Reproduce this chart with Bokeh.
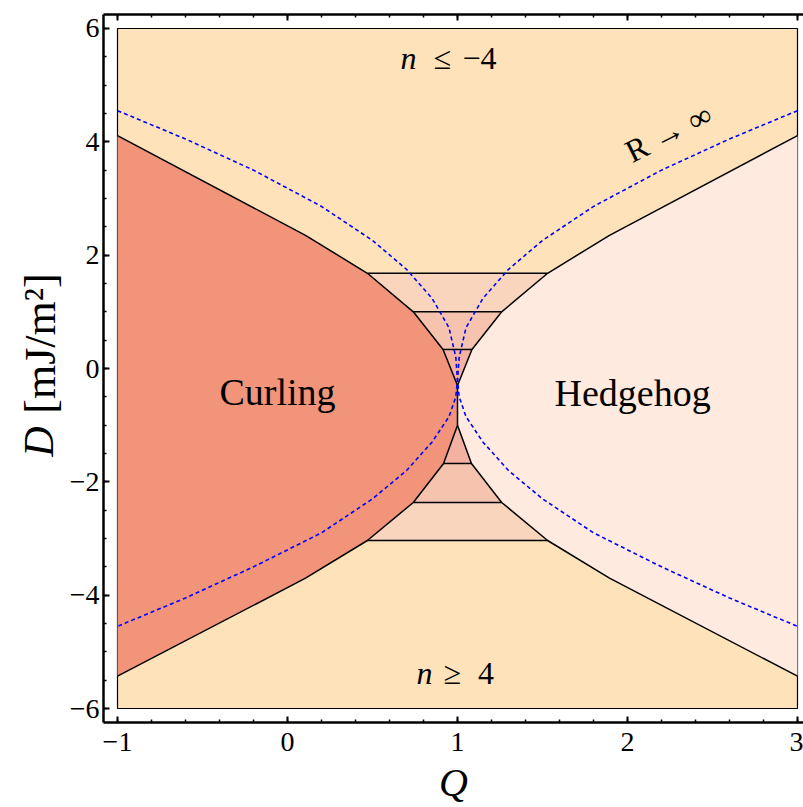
import numpy as np
from bokeh.plotting import figure
from bokeh.layouts import row
from bokeh.models import Range1d, FixedTicker, LinearAxis, Label, CustomJSTickFormatter
from bokeh.core.properties import value
from bokeh.embed import file_html
from bokeh.resources import INLINE

# ---------------- data ----------------
# upper phase boundary (Curling | bands | Hedgehog), from Q=-1 down to the apex
d_up = [4.11, 2.35, 1.68, 1.00, 0.336, -0.30]
q_up_left = [-1.0, 0.106, 0.47, 0.74, 0.915, 1.0]
q_up_right = [3.0, 1.894, 1.53, 1.26, 1.085, 1.0]
# lower phase boundary, from Q=-1 up to the apex
d_lo = [-5.43, -3.70, -3.035, -2.364, -1.676, -1.00]
q_lo_left = [-1.0, 0.106, 0.47, 0.74, 0.918, 1.0]
q_lo_right = [3.0, 1.894, 1.53, 1.26, 1.082, 1.0]

# R -> infinity curves (blue dashed)
q_curve_a = [-1.0, -0.6, -0.2, 0.2, 0.5, 0.7, 0.85, 0.95, 0.99, 1.0, 1.01, 1.05, 1.15, 1.3, 1.5, 1.8, 2.2, 2.6, 3.0]
d_curve_a = [4.55, 4.05, 3.5, 2.86, 2.26, 1.75, 1.24, 0.72, 0.2, -0.2, -0.5, -0.85, -1.3, -1.8, -2.3, -2.9, -3.5, -4.05, -4.55]
q_curve_b = [3.0, 2.6, 2.2, 1.8, 1.5, 1.3, 1.15, 1.05, 1.01, 1.0, 0.99, 0.95, 0.85, 0.7, 0.5, 0.2, -0.2, -0.6, -1.0]
d_curve_b = [4.55, 4.05, 3.5, 2.86, 2.26, 1.75, 1.24, 0.72, 0.2, -0.2, -0.5, -0.85, -1.3, -1.8, -2.3, -2.9, -3.5, -4.05, -4.55]

q_min, q_max = -1.0, 3.0
d_min, d_max = -6.0, 6.0

x_ticks = [-1, 0, 1, 2, 3]
y_ticks = [-6, -4, -2, 0, 2, 4, 6]
x_tick_labels = {"-1": "\u22121", "0": "0", "1": "1", "2": "2", "3": "3"}
y_tick_labels = {"-6": "\u22126", "-4": "\u22124", "-2": "\u22122", "0": "0", "2": "2", "4": "4", "6": "6"}

# ---------------- colours ----------------
C_BG = "#FDE2BA"
C_CURL = "#F1947A"
C_HEDGE = "#FEEADF"
C_BAND = ["#F8D5BC", "#F6C4AE", "#F2B1A1"]
FONT = "Liberation Serif"

LEFT_W = 66
TOP_B, BOT_B = 14, 85

p = figure(width=803 - LEFT_W, height=807, output_backend="svg", toolbar_location=None,
           x_range=Range1d(-1.0824, 3.0353), y_range=Range1d(-6.247, 6.247),
           min_border_left=103 - LEFT_W, min_border_right=0,
           min_border_top=TOP_B, min_border_bottom=BOT_B)
p.grid.visible = False
p.outline_line_color = None

# background (n <= -4 / n >= 4 region)
p.quad(left=[q_min], right=[q_max], bottom=[d_min], top=[d_max],
       fill_color=C_BG, line_color="black", line_width=1.2)

# Curling region
curl_x = q_up_left + q_lo_left[::-1]
curl_y = d_up + d_lo[::-1]
p.patch(curl_x, curl_y, fill_color=C_CURL, line_color=None)
# Hedgehog region
hed_x = q_up_right + q_lo_right[::-1]
hed_y = d_up + d_lo[::-1]
p.patch(hed_x, hed_y, fill_color=C_HEDGE, line_color=None)

# bands between the boundaries
for j, k in enumerate([2, 3, 4]):
    xs = [q_up_left[k], q_up_right[k], q_up_right[k + 1], q_up_left[k + 1]]
    ys = [d_up[k], d_up[k], d_up[k + 1], d_up[k + 1]]
    p.patch(xs, ys, fill_color=C_BAND[j], line_color=None)
    xs = [q_lo_left[k], q_lo_right[k], q_lo_right[k + 1], q_lo_left[k + 1]]
    ys = [d_lo[k], d_lo[k], d_lo[k + 1], d_lo[k + 1]]
    p.patch(xs, ys, fill_color=C_BAND[j], line_color=None)

# boundary lines
for qs, ds in [(q_up_left, d_up), (q_up_right, d_up), (q_lo_left, d_lo), (q_lo_right, d_lo)]:
    p.line(qs, ds, line_color="black", line_width=1.5)
p.line([q_up_left[-1], q_lo_left[-1]], [d_up[-1], d_lo[-1]], line_color="black", line_width=1.5)
for k in [2, 3, 4]:
    p.line([q_up_left[k], q_up_right[k]], [d_up[k], d_up[k]], line_color="black", line_width=1.5)
    p.line([q_lo_left[k], q_lo_right[k]], [d_lo[k], d_lo[k]], line_color="black", line_width=1.5)

# R -> infinity curves
p.line(q_curve_a, d_curve_a, line_color="#0000FF", line_width=1.6, line_dash="4 3")
p.line(q_curve_b, d_curve_b, line_color="#0000FF", line_width=1.6, line_dash="4 3")

# ---------------- axes ----------------
xt = FixedTicker(ticks=x_ticks, minor_ticks=list(np.round(np.arange(-1, 3.001, 0.2), 3)))
yt = FixedTicker(ticks=y_ticks, minor_ticks=list(np.round(np.arange(-6, 6.001, 0.5), 3)))

fmt_code = "const k = String(Math.round(tick)); return (k in labels) ? labels[k] : k;"
x_fmt = CustomJSTickFormatter(args=dict(labels=x_tick_labels), code=fmt_code)
y_fmt = CustomJSTickFormatter(args=dict(labels=y_tick_labels), code=fmt_code)
top_fmt = CustomJSTickFormatter(code="return '';")

axis_style = dict(
    axis_line_width=2.5, axis_line_color="black",
    major_tick_in=6, major_tick_out=0, minor_tick_in=3, minor_tick_out=0,
    major_tick_line_width=2, minor_tick_line_width=1.5,
    major_tick_line_color="black", minor_tick_line_color="black",
    major_label_text_font=FONT, major_label_text_font_size="28px",
    major_label_text_color="black", major_label_text_font_style="normal",
)

for ax in p.xaxis:
    for k, v in axis_style.items():
        setattr(ax, k, v)
    ax.ticker = xt
    ax.formatter = x_fmt
    ax.major_label_standoff = 10
    ax.axis_label = "Q"
    ax.axis_label_text_font = FONT
    ax.axis_label_text_font_style = "italic"
    ax.axis_label_text_font_size = "40px"
    ax.axis_label_text_color = "black"
    ax.axis_label_standoff = 6

for ax in p.yaxis:
    for k, v in axis_style.items():
        setattr(ax, k, v)
    ax.ticker = yt
    ax.formatter = y_fmt
    ax.major_label_standoff = 4

top = LinearAxis(ticker=xt, formatter=top_fmt, **axis_style)
top.major_label_standoff = 0
p.add_layout(top, "above")

# ---------------- region labels ----------------
def lab(x, y, text, size, italic=False, align="center", baseline="alphabetic", angle=0.0, dy=12):
    p.add_layout(Label(x=x, y=y, text=text, text_font=FONT, text_font_size=size,
                       text_font_style="italic" if italic else "normal",
                       text_align=align, text_baseline=baseline, angle=angle,
                       y_offset=dy, text_color="black"))


lab(-0.059, -0.62, "Curling", "38px")
lab(2.03, -0.65, "Hedgehog", "38px")
lab(0.759, 5.26, "n", "32px", italic=True, align="right")
lab(0.912, 5.26, "\u2264", "32px", align="center")
lab(1.029, 5.26, "\u22124", "32px", align="left")
lab(0.853, -5.59, "n", "32px", italic=True, align="right")
lab(0.971, -5.59, "\u2265", "32px", align="center")
lab(1.12, -5.59, "4", "32px", align="left")
lab(2.241, 4.02, "R \u2192 \u221e", "32px", baseline="middle", angle=0.464, dy=8)

# ---------------- y-axis title (separate narrow panel, pixel coordinates) ----------------
# the panel's frame is aligned with the main frame (rows 14..722 of the page)
lf = figure(width=LEFT_W, height=807, output_backend="svg", toolbar_location=None,
            x_range=Range1d(0, LEFT_W), y_range=Range1d(BOT_B, 807 - TOP_B),
            x_axis_type=None, y_axis_type=None,
            min_border_left=0, min_border_right=0, min_border_top=TOP_B, min_border_bottom=BOT_B)
lf.grid.visible = False
lf.outline_line_color = None
lf.text(x=[38], y=[807 - 441], text=["D"], angle=np.pi / 2,
        text_font=value(FONT), text_font_size="42px", text_font_style="italic",
        text_align="center", text_baseline="middle", text_color="black")
lf.text(x=[40], y=[807 - 343], text=["[mJ/m\u00b2]"], angle=np.pi / 2,
        text_font=value(FONT), text_font_size="44px", text_font_style="normal",
        text_align="center", text_baseline="middle", text_color="black")

layout = row(lf, p, spacing=0)
open("out.html", "w").write(file_html(layout, INLINE))
